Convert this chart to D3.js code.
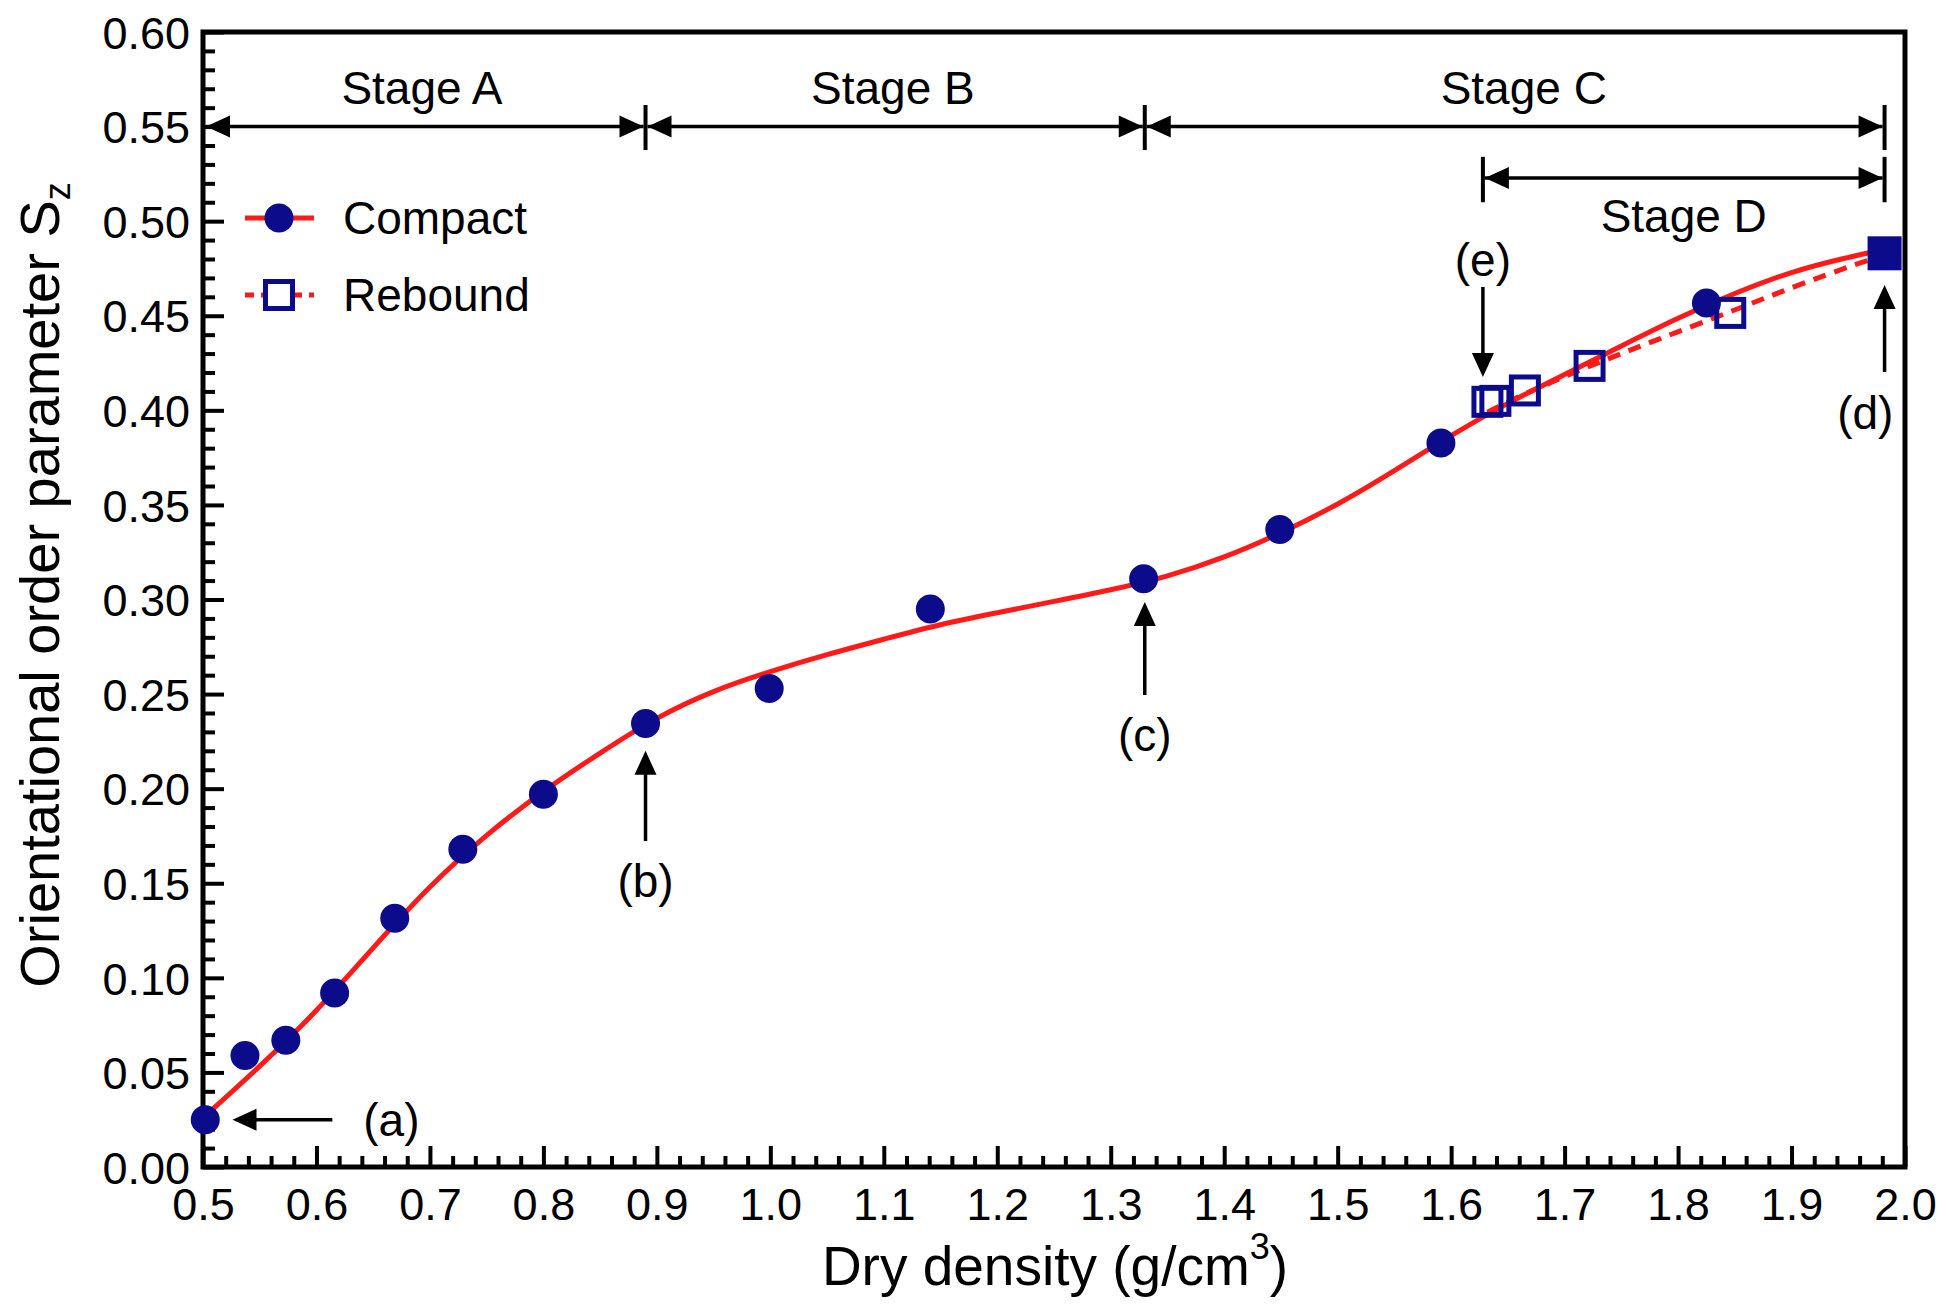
<!DOCTYPE html>
<html><head><meta charset="utf-8">
<script src="https://cdn.jsdelivr.net/npm/d3@7"></script>
<style>
body{margin:0;background:#fff}
svg text{font-family:"Liberation Sans",Arial,Helvetica,sans-serif;fill:#000}
</style>
</head><body>
<svg id="chart" width="1946" height="1309"></svg>
<script>
// ---------------- data ----------------
const compactX = [0.502, 0.537, 0.573, 0.616, 0.669, 0.729, 0.800, 0.890, 0.999, 1.141, 1.329, 1.449, 1.591, 1.825];
const compactY = [0.025, 0.059, 0.067, 0.092, 0.1315, 0.168, 0.197, 0.2345, 0.253, 0.295, 0.311, 0.337, 0.3827, 0.4568];
const reboundX = [1.632, 1.639, 1.665, 1.722, 1.846];
const reboundY = [0.4045, 0.405, 0.4105, 0.4235, 0.4515];
const endX = [1.982];
const endY = [0.483];
// fitted curves
const fitX = [0.50, 0.55, 0.60, 0.65, 0.70, 0.75, 0.80, 0.85, 0.90, 0.95, 1.00, 1.05, 1.10, 1.15, 1.20, 1.25, 1.30, 1.35, 1.40, 1.45, 1.50, 1.55, 1.60, 1.65, 1.70, 1.75, 1.80, 1.85, 1.90, 1.95, 1.982];
const fitY = [0.026, 0.053, 0.082, 0.116, 0.149, 0.176, 0.199, 0.219, 0.238, 0.252, 0.262, 0.271, 0.279, 0.287, 0.293, 0.299, 0.305, 0.312, 0.322, 0.335, 0.350, 0.368, 0.387, 0.404, 0.419, 0.434, 0.449, 0.462, 0.4735, 0.481, 0.485];
const reboundFitX = [1.632, 1.665, 1.722, 1.78, 1.846, 1.90, 1.96, 1.982];
const reboundFitY = [0.399, 0.409, 0.4235, 0.437, 0.452, 0.465, 0.478, 0.482];

const xTickValues = [0.5,0.6,0.7,0.8,0.9,1.0,1.1,1.2,1.3,1.4,1.5,1.6,1.7,1.8,1.9,2.0];
const xTickLabels = ["0.5","0.6","0.7","0.8","0.9","1.0","1.1","1.2","1.3","1.4","1.5","1.6","1.7","1.8","1.9","2.0"];
const yTickValues = [0,0.05,0.10,0.15,0.20,0.25,0.30,0.35,0.40,0.45,0.50,0.55,0.60];
const yTickLabels = ["0.00","0.05","0.10","0.15","0.20","0.25","0.30","0.35","0.40","0.45","0.50","0.55","0.60"];

const stageNames  = ["Stage A","Stage B","Stage C","Stage D"];
const stageStart  = [0.5, 0.89, 1.33, 1.628];
const stageEnd    = [0.89, 1.33, 1.982, 1.982];
const stageLevel  = [0.55, 0.55, 0.55, 0.5228];
const stageLabelX = [0.693, 1.108, 1.664, 1.805];
const stageLabelY = [0.562, 0.562, 0.562, 0.4943];
const barX  = [0.89, 1.33, 1.982, 1.628, 1.982];
const barY0 = [0.5376, 0.5376, 0.5376, 0.510, 0.510];
const barY1 = [0.5614, 0.5614, 0.5614, 0.534, 0.534];

const markLabels = ["(a)","(b)","(c)","(d)","(e)"];
const markFromX  = [0.614, 0.890, 1.330, 1.982, 1.628];
const markFromY  = [0.025, 0.1723, 0.2495, 0.4203, 0.4652];
const markToX    = [0.526, 0.890, 1.330, 1.982, 1.628];
const markToY    = [0.025, 0.220, 0.2987, 0.4662, 0.4176];
const markLabelX = [0.666, 0.890, 1.330, 1.965, 1.628];
const markLabelY = [0.025, 0.1512, 0.2284, 0.3986, 0.4795];

const legendNames = ["Compact","Rebound"];

// ---------------- layout ----------------
const L = 203, R = 1905, T = 32, B = 1167;
const navy = "#0b0b8c", red = "#ff1a1a";
const svg = d3.select("#chart");
const x = d3.scaleLinear().domain([0.5, 2.0]).range([L, R]);
const y = d3.scaleLinear().domain([0, 0.6]).range([B, T]);

// minor ticks
const xMinor = d3.range(0.5, 2.0001, 0.02).filter(v => Math.abs(Math.round(v*10) - v*10) > 1e-6);
const yMinor = d3.range(0, 0.6001, 0.01).filter(v => Math.abs(Math.round(v*20) - v*20) > 1e-6);

const gxMinor = svg.append("g").attr("transform", `translate(0,${B})`)
  .call(d3.axisBottom(x).tickValues(xMinor).tickSize(-11).tickFormat(""));
const gxMajor = svg.append("g").attr("transform", `translate(0,${B})`)
  .call(d3.axisBottom(x).tickValues(xTickValues).tickSizeInner(-21).tickSizeOuter(0).tickPadding(21)
    .tickFormat((d,i) => xTickLabels[i]));
const gyMinor = svg.append("g").attr("transform", `translate(${L},0)`)
  .call(d3.axisLeft(y).tickValues(yMinor).tickSize(-12).tickFormat(""));
const gyMajor = svg.append("g").attr("transform", `translate(${L},0)`)
  .call(d3.axisLeft(y).tickValues(yTickValues).tickSizeInner(-21).tickSizeOuter(0).tickPadding(13)
    .tickFormat((d,i) => yTickLabels[i]));
[gxMinor, gxMajor, gyMinor, gyMajor].forEach(g => {
  g.select(".domain").remove();
  g.selectAll(".tick line").attr("stroke", "#000").attr("stroke-width", 4);
  g.selectAll(".tick text").attr("font-size", 45).attr("fill", "#000")
    .attr("font-family", '"Liberation Sans",Arial,sans-serif');
});
gyMajor.selectAll(".tick text").attr("dy", "0.36em");

// frame
svg.append("rect").attr("x", L).attr("y", T).attr("width", R - L).attr("height", B - T)
  .attr("fill", "none").attr("stroke", "#000").attr("stroke-width", 5);

// ---------------- curves ----------------
const fitPts = fitX.map((v,i) => [v, fitY[i]]);
const rebPts = reboundFitX.map((v,i) => [v, reboundFitY[i]]);
const line = d3.line().x(d => x(d[0])).y(d => y(d[1])).curve(d3.curveBasis);
svg.append("path").attr("d", line(rebPts)).attr("fill", "none").attr("stroke", red)
  .attr("stroke-width", 5).attr("stroke-dasharray", "13,9");
svg.append("path").attr("d", line(fitPts)).attr("fill", "none").attr("stroke", red)
  .attr("stroke-width", 5);

// markers
svg.append("g").selectAll("circle").data(compactX).join("circle")
  .attr("cx", d => x(d)).attr("cy", (d,i) => y(compactY[i])).attr("r", 14.5).attr("fill", navy);
const sq = 27;
svg.append("g").selectAll("rect").data(reboundX).join("rect")
  .attr("x", d => x(d) - sq/2).attr("y", (d,i) => y(reboundY[i]) - sq/2)
  .attr("width", sq).attr("height", sq).attr("fill", "none").attr("stroke", navy).attr("stroke-width", 5);
const fsq = 34;
svg.append("g").selectAll("rect").data(endX).join("rect")
  .attr("x", d => x(d) - fsq/2).attr("y", (d,i) => y(endY[i]) - fsq/2)
  .attr("width", fsq).attr("height", fsq).attr("fill", navy);

// ---------------- annotations ----------------
const AL = 24, AW = 11;
function head(tx, ty, dir) {
  let p;
  if (dir === "left")  p = [[tx,ty],[tx+AL,ty-AW],[tx+AL,ty+AW]];
  if (dir === "right") p = [[tx,ty],[tx-AL,ty-AW],[tx-AL,ty+AW]];
  if (dir === "up")    p = [[tx,ty],[tx-AW,ty+AL],[tx+AW,ty+AL]];
  if (dir === "down")  p = [[tx,ty],[tx-AW,ty-AL],[tx+AW,ty-AL]];
  svg.append("path").attr("d", "M" + p.map(q => q.join(",")).join("L") + "Z").attr("fill", "#000");
}
const ann = svg.append("g");
stageNames.forEach((name, i) => {
  const yy = y(stageLevel[i]);
  const x0 = x(stageStart[i]) + (i === 0 ? 3 : 2);
  const x1 = x(stageEnd[i]) - 2;
  ann.append("line").attr("x1", x0).attr("x2", x1).attr("y1", yy).attr("y2", yy)
    .attr("stroke", "#000").attr("stroke-width", 3.5);
  head(x0, yy, "left");
  head(x1, yy, "right");
  ann.append("text").attr("x", x(stageLabelX[i])).attr("y", y(stageLabelY[i]))
    .attr("text-anchor", "middle").attr("font-size", 46).text(name);
});
barX.forEach((v, i) => {
  ann.append("line").attr("x1", x(v)).attr("x2", x(v)).attr("y1", y(barY0[i])).attr("y2", y(barY1[i]))
    .attr("stroke", "#000").attr("stroke-width", 4);
});
markLabels.forEach((lab, i) => {
  const fx = x(markFromX[i]), fy = y(markFromY[i]), tx = x(markToX[i]), ty = y(markToY[i]);
  let dir;
  if (Math.abs(fx - tx) > Math.abs(fy - ty)) dir = tx < fx ? "left" : "right";
  else dir = ty < fy ? "up" : "down";
  const ex = dir === "left" ? tx + AL - 2 : dir === "right" ? tx - AL + 2 : tx;
  const ey = dir === "up" ? ty + AL - 2 : dir === "down" ? ty - AL + 2 : ty;
  ann.append("line").attr("x1", fx).attr("y1", fy).attr("x2", ex).attr("y2", ey)
    .attr("stroke", "#000").attr("stroke-width", 3.5);
  head(tx, ty, dir);
  ann.append("text").attr("x", x(markLabelX[i])).attr("y", y(markLabelY[i])).attr("dy", "0.35em")
    .attr("text-anchor", "middle").attr("font-size", 46).text(lab);
});

// ---------------- legend ----------------
const lg = svg.append("g");
legendNames.forEach((name, i) => {
  const ly = 218 + i * 77;
  lg.append("line").attr("x1", 245).attr("x2", 314).attr("y1", ly).attr("y2", ly)
    .attr("stroke", red).attr("stroke-width", 5).attr("stroke-dasharray", i === 1 ? "9,7" : null);
  if (i === 0) lg.append("circle").attr("cx", 279).attr("cy", ly).attr("r", 14.5).attr("fill", navy);
  else lg.append("rect").attr("x", 279 - sq/2).attr("y", ly - sq/2).attr("width", sq).attr("height", sq)
    .attr("fill", "#fff").attr("stroke", navy).attr("stroke-width", 5);
  lg.append("text").attr("x", 343).attr("y", ly).attr("dy", "0.35em").attr("font-size", 46).text(name);
});

// ---------------- axis titles ----------------
const xt = svg.append("text").attr("x", 1055).attr("y", 1285).attr("text-anchor", "middle").attr("font-size", 55);
xt.append("tspan").text("Dry density (g/cm");
xt.append("tspan").attr("dy", -26).attr("font-size", 36).text("3");
xt.append("tspan").attr("dy", 26).text(")");

const yt = svg.append("text").attr("transform", "translate(59,585) rotate(-90)")
  .attr("text-anchor", "middle").attr("font-size", 56);
yt.append("tspan").text("Orientational order parameter S");
yt.append("tspan").attr("dy", "0.3em").attr("font-size", 36).text("z");
</script>
</body></html>
